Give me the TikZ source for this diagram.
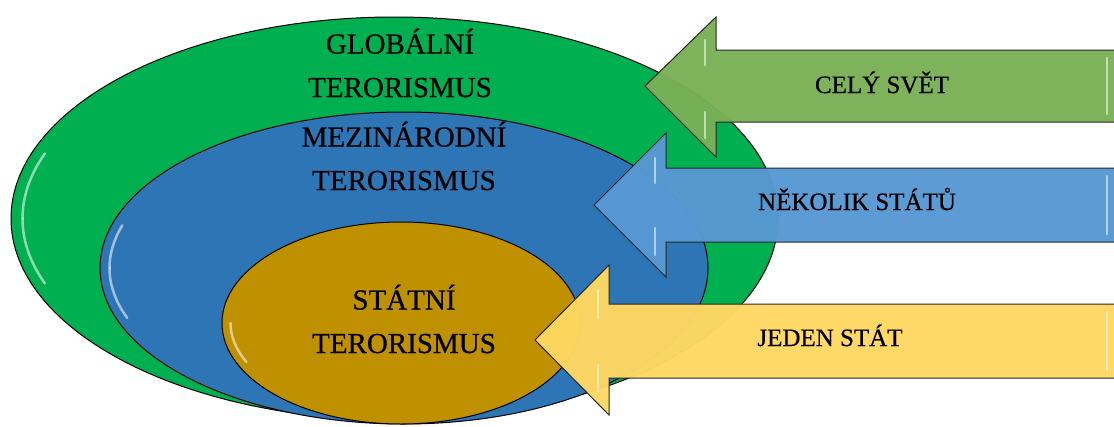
\documentclass[tikz,border=0pt]{standalone}
\usepackage{fontspec}
\setmainfont{Liberation Serif}[AutoFakeBold=0.6]
\usetikzlibrary{shapes.geometric}
\definecolor{globgreen}{HTML}{00B050}
\definecolor{mezblue}{HTML}{2E75B6}
\definecolor{statgold}{HTML}{BF9000}
\definecolor{arrgreen}{HTML}{7AB157}
\definecolor{arrblue}{HTML}{5898D3}
\definecolor{arryellow}{HTML}{FFD863}
\tikzstyle{ringbox} = [draw=black, line width=1pt, ellipse, inner sep=0pt]
\tikzstyle{ringtext} = [font=\fontsize{29}{43.5}\selectfont\bfseries, align=center, anchor=base, inner sep=0pt]
\tikzstyle{arrowbox} = [draw=black!85, line width=1pt, fill opacity=0.97]
\tikzstyle{arrowtext} = [font=\fontsize{25}{30}\selectfont\bfseries, anchor=base, inner sep=0pt]
\tikzstyle{gloss} = [draw=white, opacity=0.55, line width=2.5pt, line cap=round]

\begin{document}
\begin{tikzpicture}[x=1pt, y=-1pt]
        \useasboundingbox (0,0) rectangle (1114,426);
        % rings
        \node [ringbox, fill=globgreen, minimum width=767pt, minimum height=403pt] (glob) at (394.5,218.5) {};
        \node [ringbox, fill=mezblue, minimum width=608pt, minimum height=312pt] (mez) at (404,268) {};
        \node [ringbox, fill=statgold, minimum width=358pt, minimum height=202pt] (stat) at (401,323) {};
        \draw [gloss] ([shift={(12,0)}]glob.west) arc[start angle=180, end angle=200, x radius=372, y radius=190];
        \draw [gloss] ([shift={(12,0)}]glob.west) arc[start angle=180, end angle=160, x radius=372, y radius=190];
        \draw [gloss] ([shift={(10,0)}]mez.west) arc[start angle=180, end angle=197, x radius=294, y radius=146];
        \draw [gloss] ([shift={(10,0)}]mez.west) arc[start angle=180, end angle=160, x radius=294, y radius=146];
        \draw [gloss] ([shift={(9,0)}]stat.west) arc[start angle=180, end angle=155, x radius=170, y radius=92];
        % labels of the rings
        \node [ringtext] (globtext) at (400,97) {GLOBÁLNÍ\\TERORISMUS};
        \node [ringtext] (meztext) at (404,190) {MEZINÁRODNÍ\\TERORISMUS};
        \node [ringtext] (stattext) at (404,353) {STÁTNÍ\\TERORISMUS};
        % arrows
        \draw [arrowbox, fill=arrgreen] (645,86) -- (716,17) -- (716,50) -- (1120,50) -- (1120,122) -- (716,122) -- (716,157) -- cycle;
        \draw [arrowbox, fill=arrblue] (594,205) -- (666,133) -- (666,168) -- (1120,168) -- (1120,242) -- (666,242) -- (666,277) -- cycle;
        \draw [arrowbox, fill=arryellow] (535,340) -- (609,265) -- (609,304) -- (1120,304) -- (1120,378) -- (609,378) -- (609,415) -- cycle;
        \draw [gloss] (705,40) -- (705,65);
        \draw [gloss] (705,112) -- (705,138);
        \draw [gloss] (655,158) -- (655,183);
        \draw [gloss] (655,228) -- (655,255);
        \draw [gloss] (598,290) -- (598,318);
        \draw [gloss] (598,365) -- (598,392);
        \draw [gloss] (1107,58) -- (1107,114);
        \draw [gloss] (1107,176) -- (1107,234);
        \draw [gloss] (1107,312) -- (1107,370);
        % labels of the arrows
        \node [arrowtext] (celytext) at (882,93) {CELÝ SVĚT};
        \node [arrowtext] (nekoliktext) at (857,210) {NĚKOLIK STÁTŮ};
        \node [arrowtext] (jedentext) at (830,346) {JEDEN STÁT};
\end{tikzpicture}
\end{document}
